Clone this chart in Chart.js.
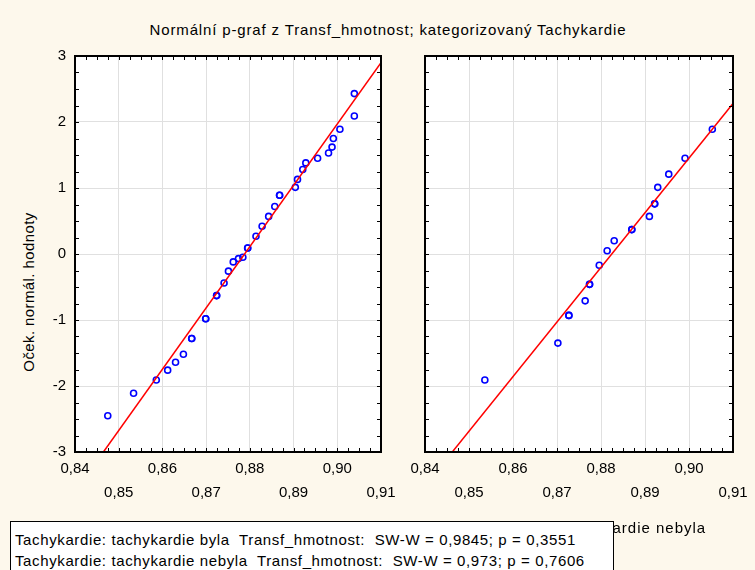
<!DOCTYPE html>
<html>
<head>
<meta charset="utf-8">
<script src="https://cdn.jsdelivr.net/npm/chart.js@4.4.0/dist/chart.umd.min.js"></script>
<style>
  body { margin: 0; background: #fdf8ec; }
  #wrap { position: relative; width: 755px; height: 570px; overflow: hidden; font-family: "Liberation Sans", Arial, sans-serif; color: #000; }
  canvas { position: absolute; left: 0; top: 0; }
  .txt { position: absolute; white-space: pre; font-size: 15px; line-height: 18px; }
  #title { left: 0; top: 21px; width: 776px; text-align: center; letter-spacing: 0.85px; }
  #ytitle { left: 29px; top: 292px; transform: translate(-50%, -50%) rotate(-90deg); letter-spacing: 0.4px; }
  #subLeft { left: 0; top: 519px; width: 456px; text-align: center; letter-spacing: 1px; }
  #subRight { left: 0; top: 519px; width: 1168px; text-align: center; letter-spacing: 1px; }
  #legend { position: absolute; left: 10px; top: 521px; width: 598px; height: 60px; background: #fff;
            border: 1px solid #000; padding: 7px 0 0 4px; font-size: 15px; line-height: 21px;
            white-space: pre; letter-spacing: 0.62px; }
</style>
</head>
<body>
<div id="wrap">
  <div id="title" class="txt">Normální p-graf z Transf_hmotnost; kategorizovaný Tachykardie</div>
  <div id="ytitle" class="txt">Oček. normál. hodnoty</div>
  <canvas id="leftChart" width="755" height="570"></canvas>
  <canvas id="rightChart" width="755" height="570"></canvas>
  <div id="subLeft" class="txt">Tachykardie: tachykardie byla</div>
  <div id="subRight" class="txt">Tachykardie: tachykardie nebyla</div>
  <div id="legend"></div>
</div>
<script>
// tachykardie byla (left panel)
const bylaX = [0.9039, 0.9039, 0.9006, 0.8991, 0.8988, 0.8980, 0.8955, 0.8928, 0.8921, 0.8909,
               0.8904, 0.8868, 0.8868, 0.8857, 0.8843, 0.8828, 0.8814, 0.8795, 0.8795, 0.8784,
               0.8774, 0.8762, 0.8751, 0.8741, 0.8724, 0.8724, 0.8699, 0.8699, 0.8667, 0.8667,
               0.8648, 0.8630, 0.8612, 0.8586, 0.8534, 0.8475];
const bylaY = [2.43, 2.09, 1.89, 1.75, 1.62, 1.53, 1.45, 1.38, 1.28, 1.13,
               1.01, 0.89, 0.89, 0.72, 0.57, 0.42, 0.27, 0.09, 0.09, -0.05,
               -0.07, -0.12, -0.26, -0.44, -0.63, -0.63, -0.98, -0.98, -1.28, -1.28,
               -1.52, -1.64, -1.76, -1.91, -2.11, -2.45];
const bylaLineX = [0.8465, 0.91];
const bylaLineY = [-3, 2.90];

// tachykardie nebyla (right panel)
const nebylaX = [0.9053, 0.8991, 0.8954, 0.8929, 0.8922, 0.8922, 0.8910, 0.8870, 0.8870, 0.8830,
                 0.8814, 0.8796, 0.8774, 0.8774, 0.8764, 0.8727, 0.8727, 0.8702, 0.8536];
const nebylaY = [1.89, 1.45, 1.21, 1.01, 0.76, 0.76, 0.57, 0.37, 0.37, 0.20,
                 0.05, -0.17, -0.46, -0.46, -0.71, -0.93, -0.93, -1.35, -1.91];
const nebylaLineX = [0.8462, 0.91];
const nebylaLineY = [-3, 2.28];

const xTickLabels = ["0,84", "0,85", "0,86", "0,87", "0,88", "0,89", "0,90", "0,91"];
const yTickLabels = ["-3", "-2", "-1", "0", "1", "2", "3"];

const legendLines = [
  "Tachykardie: tachykardie byla  Transf_hmotnost:  SW-W = 0,9845; p = 0,3551",
  "Tachykardie: tachykardie nebyla  Transf_hmotnost:  SW-W = 0,973; p = 0,7606"
];

document.getElementById("legend").textContent = legendLines.join("\n");

Chart.defaults.font.family = "'Liberation Sans', Arial, sans-serif";
Chart.defaults.font.size = 15;
Chart.defaults.color = "#000";

const X_MIN = 0.84, X_MAX = 0.91, Y_MIN = -3, Y_MAX = 3;

// white plot area, inward minor ticks and the black frame
const frameAndTicks = {
  id: "frameAndTicks",
  beforeDraw(chart) {
    const a = chart.chartArea;
    const ctx = chart.ctx;
    ctx.save();
    ctx.fillStyle = "#fff";
    ctx.fillRect(a.left, a.top, a.right - a.left, a.bottom - a.top);
    ctx.restore();
  },
  afterDraw(chart) {
    const a = chart.chartArea;
    const ctx = chart.ctx;
    const xs = chart.scales.x;
    const ys = chart.scales.y;
    ctx.save();
    ctx.strokeStyle = "#000";
    ctx.lineWidth = 1;
    ctx.beginPath();
    for (let i = 0; i <= 28; i++) {
      const px = Math.round(xs.getPixelForValue(X_MIN + i * 0.0025)) + 0.5;
      ctx.moveTo(px, a.top);
      ctx.lineTo(px, a.top + 4);
      ctx.moveTo(px, a.bottom);
      ctx.lineTo(px, a.bottom - 4);
    }
    for (let i = 0; i <= 24; i++) {
      const py = Math.round(ys.getPixelForValue(Y_MIN + i * 0.25)) + 0.5;
      ctx.moveTo(a.left, py);
      ctx.lineTo(a.left + 4, py);
      ctx.moveTo(a.right, py);
      ctx.lineTo(a.right - 4, py);
    }
    ctx.stroke();
    ctx.lineWidth = 2;
    ctx.strokeRect(a.left, a.top, a.right - a.left, a.bottom - a.top);
    ctx.restore();
  }
};

function makePanel(canvasId, xs, ys, lineX, lineY, pad, yWidth, showYLabels) {
  const points = xs.map((x, i) => ({ x: x, y: ys[i] }));
  const line = lineX.map((x, i) => ({ x: x, y: lineY[i] }));

  return new Chart(document.getElementById(canvasId), {
    type: "scatter",
    data: {
      datasets: [
        {
          data: line,
          showLine: true,
          borderColor: "#ff0000",
          borderWidth: 1.5,
          pointRadius: 0
        },
        {
          data: points,
          pointStyle: "circle",
          pointRadius: 3,
          pointBorderWidth: 1.6,
          borderColor: "#0000ff",
          backgroundColor: "rgba(0,0,0,0)"
        }
      ]
    },
    options: {
      responsive: false,
      animation: false,
      layout: { padding: pad },
      plugins: {
        legend: { display: false },
        tooltip: { enabled: false }
      },
      scales: {
        x: {
          type: "linear",
          min: X_MIN,
          max: X_MAX,
          afterFit: (s) => { s.height = 60; },
          border: { display: false },
          grid: { color: "#e0e0e0", lineWidth: 1, drawTicks: false },
          ticks: {
            stepSize: 0.01,
            maxRotation: 0,
            autoSkip: false,
            padding: 4,
            font: { size: 15, lineHeight: 1.65 },
            callback: (value, index) => (index % 2 === 0 ? xTickLabels[index] : ["", xTickLabels[index]])
          }
        },
        y: {
          type: "linear",
          min: Y_MIN,
          max: Y_MAX,
          afterFit: (s) => { s.width = yWidth; },
          border: { display: false },
          grid: { color: "#e0e0e0", lineWidth: 1, drawTicks: false },
          ticks: {
            display: showYLabels,
            stepSize: 1,
            padding: 9,
            font: { size: 15 },
            callback: (value, index) => yTickLabels[index]
          }
        }
      }
    },
    plugins: [frameAndTicks]
  });
}

makePanel("leftChart", bylaX, bylaY, bylaLineX, bylaLineY,
  { left: 0, top: 56, right: 374, bottom: 58 }, 75, true);
makePanel("rightChart", nebylaX, nebylaY, nebylaLineX, nebylaLineY,
  { left: 0, top: 56, right: 22, bottom: 58 }, 425, false);
</script>
</body>
</html>
